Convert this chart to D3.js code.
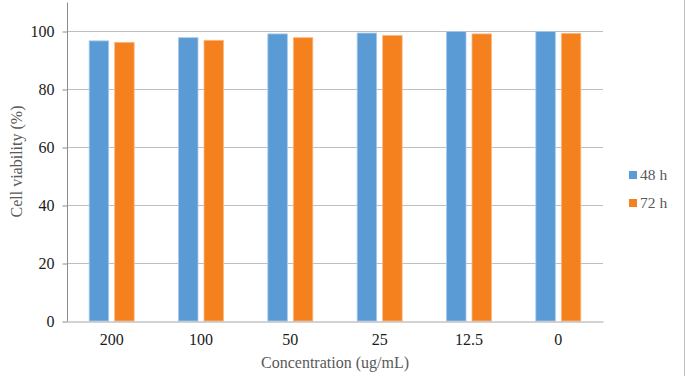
<!DOCTYPE html>
<html>
<head>
<meta charset="utf-8">
<script src="https://cdn.jsdelivr.net/npm/d3@7"></script>
<style>
  body { margin: 0; background: #fff; }
  svg { display: block; font-family: "Liberation Serif", "Times New Roman", serif; }
</style>
</head>
<body>
<svg id="chart" width="685" height="376"></svg>
<script>
// values
var concentrations = ["200", "100", "50", "25", "12.5", "0"];
var seriesNames = ["48 h", "72 h"];
var values48 = [96.6, 97.7, 99.0, 99.3, 99.8, 99.8];
var values72 = [96.1, 96.8, 97.7, 98.5, 99.0, 99.2];
var yTicks = [0, 20, 40, 60, 80, 100];
var colors = ["#5b9bd5", "#f5801e"];
var strokes = ["#a9cbea", "#f9b98a"];

var rows = concentrations.map(function(c, i) {
    return { cat: c, vals: [values48[i], values72[i]] };
});

var svg = d3.select("#chart");
var plotLeft = 67, plotRight = 603, plotTop = 2, plotBottom = 321;

var x0 = d3.scaleBand().domain(concentrations).range([plotLeft, plotRight]).padding(0);
var bw = x0.bandwidth();
var x1 = d3.scaleBand().domain([0, 1])
        .range([bw / 2 - 22.5, bw / 2 + 22.5])
        .paddingInner(0.235).paddingOuter(0);
var y = d3.scaleLinear().domain([0, 110]).range([plotBottom, plotTop]);

// gridlines
svg.append("g").selectAll("line")
    .data(yTicks.filter(function(d) { return d > 0; }))
    .enter().append("line")
    .attr("x1", plotLeft).attr("x2", plotRight)
    .attr("y1", function(d) { return y(d) + 0.5; })
    .attr("y2", function(d) { return y(d) + 0.5; })
    .style("stroke", "#bfbfbf")
    .style("stroke-width", 1);

// bars
var group = svg.append("g").selectAll("g")
    .data(rows)
    .enter().append("g")
    .attr("transform", function(d) { return "translate(" + x0(d.cat) + ",0)"; });

group.selectAll("rect")
    .data(function(d) { return d.vals.map(function(v, i) { return { i: i, v: v }; }); })
    .enter().append("rect")
    .attr("x", function(d) { return x1(d.i); })
    .attr("width", x1.bandwidth())
    .attr("y", function(d) { return y(d.v); })
    .attr("height", function(d) { return y(0) - y(d.v); })
    .style("fill", function(d) { return colors[d.i]; })
    .style("stroke", function(d) { return strokes[d.i]; })
    .style("stroke-width", 0.8);

// y axis
var yAxis = d3.axisLeft(y).tickValues(yTicks).tickSize(5).tickPadding(8);
var gy = svg.append("g")
    .attr("transform", "translate(" + (plotLeft + 0.5) + ",0.5)")
    .call(yAxis);
gy.select(".domain").style("stroke", "#8c8c8c").attr("d", "M0," + plotTop + "V" + plotBottom);
gy.selectAll(".tick line").style("stroke", "#8c8c8c");
gy.selectAll("text")
    .style("font-family", "'Liberation Serif', serif")
    .style("font-size", "16px")
    .style("fill", "#1a1a1a");

// x axis
var xAxis = d3.axisBottom(x0).tickSize(0).tickPadding(12);
var gx = svg.append("g")
    .attr("transform", "translate(0," + (plotBottom + 0.5) + ")")
    .call(xAxis);
gx.select(".domain").style("stroke", "#a6a6a6");
gx.selectAll("text")
    .style("font-family", "'Liberation Serif', serif")
    .style("font-size", "16px")
    .style("fill", "#1a1a1a");

// axis titles
svg.append("text")
    .attr("x", (plotLeft + plotRight) / 2)
    .attr("y", 368)
    .attr("text-anchor", "middle")
    .style("font-size", "16px")
    .style("fill", "#595959")
    .text("Concentration (ug/mL)");

svg.append("text")
    .attr("transform", "translate(22," + ((plotTop + plotBottom) / 2) + ") rotate(-90)")
    .attr("text-anchor", "middle")
    .style("font-size", "16px")
    .style("fill", "#595959")
    .text("Cell viability (%)");

// legend
var legend = svg.append("g").selectAll("g")
    .data(seriesNames)
    .enter().append("g")
    .attr("transform", function(d, i) { return "translate(629," + (171 + i * 28) + ")"; });
legend.append("rect")
    .attr("width", 8).attr("height", 8)
    .style("fill", function(d, i) { return colors[i]; });
legend.append("text")
    .attr("x", 11).attr("y", 9)
    .style("font-size", "15.5px")
    .style("fill", "#595959")
    .text(function(d) { return d; });

// right border
svg.append("line")
    .attr("x1", 684.5).attr("x2", 684.5)
    .attr("y1", 0).attr("y2", 376)
    .style("stroke", "#bfbfbf");
</script>
</body>
</html>
